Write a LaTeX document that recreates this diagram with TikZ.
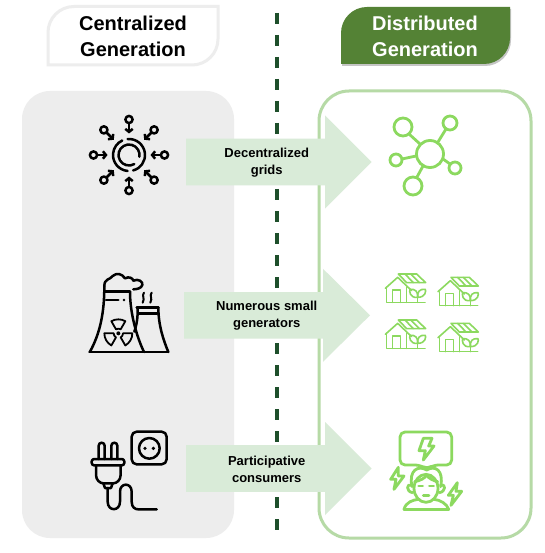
\documentclass[tikz,border=0pt]{standalone}
\usepackage{fontspec}
\setmainfont{Liberation Sans}
\usetikzlibrary{shadows,arrows.meta}
\definecolor{panelgray}{HTML}{EDEDED}
\definecolor{panelgreen}{HTML}{B6DAA6}
\definecolor{arrowgreen}{HTML}{D9EBD8}
\definecolor{headgreen}{HTML}{548235}
\definecolor{iconlime}{HTML}{8CD95F}
\definecolor{dashgreen}{HTML}{1E4F2B}
\tikzset{
  title/.style={font=\bfseries\fontsize{20}{26}\selectfont, align=center},
  arrowlabel/.style={font=\bfseries\fontsize{13}{17}\selectfont, align=center},
  blackicon/.style={draw=black, line width=2.5pt, line cap=round, line join=round},
  limeicon/.style={draw=iconlime, line width=2.8pt, line cap=round, line join=round},
  limethin/.style={draw=iconlime, line width=1.6pt, line cap=round, line join=round},
}
\begin{document}
\begin{tikzpicture}[x=1pt, y=-1pt, >={Straight Barb[length=3pt,width=7.5pt]}]
  \useasboundingbox (0,0) rectangle (544,553);
  \fill[white] (0,0) rectangle (544,553);
  % panels
  \fill[panelgray, rounded corners=28pt] (22,91) rectangle (234,538);
  \draw[panelgreen, line width=3pt, rounded corners=30pt] (319,91) rectangle (531,538);
  \draw[dashgreen, line width=3.4pt, dash pattern=on 11pt off 11pt] (277,13) -- (277,535);
  % headers
  \draw[panelgray, line width=3pt] (48,65) [rounded corners=26pt] -- (48,6.5) [sharp corners] -- (218,6.5) [rounded corners=26pt] -- (218,65) [sharp corners] -- cycle;
  \fill[headgreen, drop shadow={opacity=.45, shadow xshift=1pt, shadow yshift=-2pt}] (341,64) [rounded corners=26pt] -- (341,7) [sharp corners] -- (510,7) [rounded corners=26pt] -- (510,64) [sharp corners] -- cycle;
  \node[title] (central) at (133,36.5) {Centralized\\Generation};
  \node[title, text=white] (distrib) at (425,36.5) {Distributed\\Generation};
  % arrows
  \foreach \x/\h/\t/\y/\name/\txt in {186/325/371.5/162/grids/{Decentralized\\grids}, 184/323/370/315.3/generators/{Numerous small\\generators}, 186/325/371.5/468.5/consumers/{Participative\\consumers}} {
    \fill[arrowgreen] (\x,\y-23.3) -- (\h,\y-23.3) -- (\h,\y-46.5) -- (\t,\y) -- (\h,\y+46.5) -- (\h,\y+23.3) -- (\x,\y+23.3) -- cycle;
    \node[arrowlabel] (\name) at (266.7,\y+0.5) {\txt};
  }
  % hub icon
  \begin{scope}[shift={(129,155)}]
    \draw[blackicon] (-95:16) arc (-95:75:16);
    \draw[blackicon] (95:16) arc (95:245:16);
    \draw[blackicon] (60:10.5) arc (60:370:10.5);
    \foreach \a in {0,45,...,315} {
      \draw[blackicon] (\a:35.5) circle (3.6);
      \draw[blackicon, ->] (\a:31.5) -- (\a:21.5);
    }
  \end{scope}
  % network icon
  \begin{scope}
    \draw[limeicon] (430,154) circle (13.5);
    \draw[limeicon] (403,127) circle (9);
    \draw[limeicon] (450,123) circle (7);
    \draw[limeicon] (396,160) circle (6);
    \draw[limeicon] (455,168) circle (6);
    \draw[limeicon] (413,186) circle (9);
    \draw[limeicon] (409,134) -- (420,144);
    \draw[limeicon] (446,129) -- (438,142);
    \draw[limeicon] (402,159) -- (416,156);
    \draw[limeicon] (443,159) -- (450,164);
    \draw[limeicon] (417,177) -- (423,166);
  \end{scope}
  % power plant
  \begin{scope}[shift={(70,250)}, x=1/3*1pt, y=-1/3*1pt]
    \draw[blackicon] (58,306) -- (295,306);
    \draw[blackicon] (60,305) .. controls (90,250) and (103,190) .. (103,108);
    \draw[blackicon] (180,125) .. controls (180,190) and (200,260) .. (222,306);
    \draw[blackicon] (103,125) -- (180,125);
    \draw[blackicon] (103,108) .. controls (103,85) and (120,90) .. (128,78) .. controls (140,68) and (155,70) .. (165,85) .. controls (178,78) and (188,85) .. (190,92) .. controls (205,85) and (220,95) .. (217,105) .. controls (214,115) and (200,118) .. (190,118);
    \draw[blackicon] (108,150) -- (145,150);
    \fill (162,150) circle (4);
    \fill (145,250) circle (6);
    \foreach \a in {270,30,150} {
      \draw[blackicon, line width=1.8pt] ([shift={(145,250)}]\a-30:14) -- ([shift={(145,250)}]\a-30:42) arc (\a-30:\a+30:42) -- ([shift={(145,250)}]\a+30:14) arc (\a+30:\a-30:14) -- cycle;
    }
    \draw[blackicon] (200,172) -- (265,172);
    \draw[blackicon] (205,190) -- (262,190);
    \draw[blackicon] (203,172) .. controls (204,200) and (200,225) .. (193,245);
    \draw[blackicon] (265,172) .. controls (265,225) and (280,270) .. (295,306);
    \draw[blackicon, line width=2pt] (222,128) .. controls (214,138) and (226,144) .. (218,158);
    \draw[blackicon, line width=2pt] (245,128) .. controls (237,138) and (249,144) .. (241,158);
  \end{scope}
  % solar houses
  \foreach \dx/\dy in {0/0, 158/10, 0/138, 158/148} {
    \begin{scope}[shift={(370+\dx/3,260+\dy/3)}, x=1/3*1pt, y=-1/3*1pt]
      \draw[limethin] (46,85) -- (83,52) -- (125,92);
      \draw[limethin] (50,85) -- (50,127) -- (118,127);
      \draw[limethin] (110,82) -- (110,127);
      \draw[limethin] (68,127) -- (68,90) -- (92,90) -- (92,127);
      \draw[limethin] (85,42) -- (140,42) -- (167,68) -- (110,68) -- cycle;
      \draw[limethin] (105,42) -- (130,68);
      \draw[limethin] (122,42) -- (148,68);
      \draw[limethin] (143,127) -- (143,100);
      \draw[limethin] (143,112) .. controls (118,115) and (118,92) .. (120,88) .. controls (135,86) and (145,95) .. (143,112);
      \draw[limethin] (143,112) .. controls (168,112) and (168,92) .. (166,88) .. controls (150,86) and (141,95) .. (143,112);
      \draw[limethin] (118,127) -- (165,127);
    \end{scope}
  }
  % plug and socket
  \begin{scope}[shift={(70,420)}, x=1/3*1pt, y=-1/3*1pt]
    \draw[blackicon, rounded corners=5pt] (185,35) rectangle (290,133);
    \draw[blackicon] (238,85) circle (31);
    \fill (225,85) circle (5.5);
    \fill (250,85) circle (5.5);
    \draw[blackicon, rounded corners=3pt] (86,117) -- (86,68) -- (104,68) -- (104,117);
    \draw[blackicon, rounded corners=3pt] (124,117) -- (124,68) -- (142,68) -- (142,117);
    \draw[blackicon, rounded corners=2.5pt] (65,117) rectangle (163,136);
    \draw[blackicon] (78,136) -- (78,165) .. controls (78,180) and (90,190) .. (100,190) -- (130,190) .. controls (140,190) and (152,180) .. (152,165) -- (152,136);
    \draw[blackicon] (100,190) -- (105,204) -- (123,204) -- (128,190);
    \draw[blackicon] (113,204) -- (113,245) .. controls (113,275) and (150,275) .. (150,245) -- (150,215) .. controls (150,187) and (185,187) .. (185,215) -- (185,245) .. controls (185,262) and (195,268) .. (205,268) -- (260,268);
  \end{scope}
  % participant icon
  \begin{scope}[shift={(370,420)}, x=1/3*1pt, y=-1/3*1pt]
    \draw[limeicon, rounded corners=5pt] (150,135) -- (90,135) -- (90,36) -- (245,36) -- (245,135) -- (190,135) -- (172,148) -- cycle;
    \draw[limeicon] (160,55) -- (186,55) -- (176,78) -- (192,78) -- (160,120) -- (166,92) -- (147,92) -- cycle;
    \draw[limeicon] (85,142) -- (62,178) -- (78,178) -- (72,208) -- (102,168) -- (85,168) -- cycle;
    \draw[limeicon] (262,188) -- (235,226) -- (250,226) -- (243,256) -- (275,214) -- (258,214) -- cycle;
    \draw[limeicon] (168,205) ellipse (36 and 42);
    \draw[limeicon] (126,200) .. controls (115,150) and (145,135) .. (170,150) .. controls (195,135) and (222,150) .. (212,200);
    \draw[limeicon] (134,185) .. controls (150,182) and (165,175) .. (170,165) .. controls (175,175) and (190,182) .. (203,185);
    \draw[limeicon] (125,195) .. controls (108,190) and (108,215) .. (128,218);
    \draw[limeicon] (212,195) .. controls (228,190) and (228,215) .. (208,218);
    \draw[limeicon] (146,198) -- (158,198);
    \draw[limeicon] (178,198) -- (191,198);
    \draw[limeicon] (160,226) -- (177,226);
    \draw[limeicon] (102,268) .. controls (108,245) and (130,240) .. (145,238);
    \draw[limeicon] (192,238) .. controls (210,240) and (230,250) .. (236,268);
    \draw[limeicon] (102,268) -- (236,268);
  \end{scope}
\end{tikzpicture}
\end{document}
